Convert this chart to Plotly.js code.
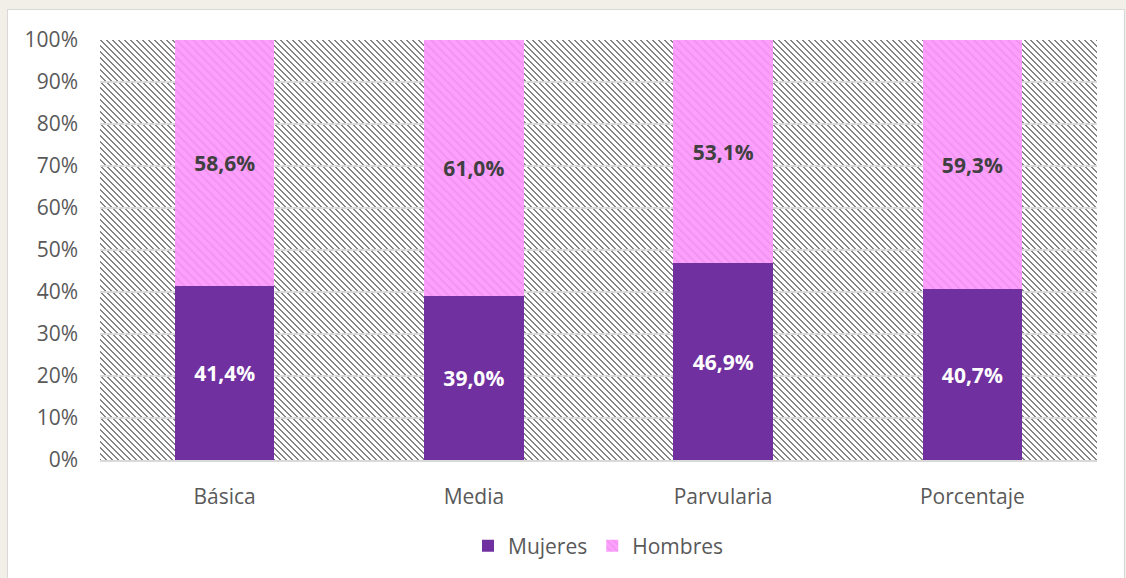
<!DOCTYPE html>
<html>
<head>
<meta charset="utf-8">
<script src="https://cdn.plot.ly/plotly-3.0.1.min.js"></script>
<style>
  html, body { margin: 0; padding: 0; background: #f2efe8; width: 1126px; height: 578px; overflow: hidden; }
  #card { position: absolute; left: 7px; top: 9px; width: 1116px; height: 600px; background: #ffffff; border: 1px solid #d9d9d9; }
  #hatch { position: absolute; left: 100px; top: 40px; width: 997px; height: 422px; background-color: #ffffff; image-rendering: pixelated; }
  #chart { position: absolute; left: 0; top: 0; width: 1126px; height: 578px; }
</style>
</head>
<body>
<div id="card"></div>
<div id="hatch"></div>
<div id="chart"></div>
<script>
const categories = ["Básica", "Media", "Parvularia", "Porcentaje"];
const mujeres = [41.4, 39.0, 46.9, 40.7];
const hombres = [58.6, 61.0, 53.1, 59.3];
const yTicks = [0, 10, 20, 30, 40, 50, 60, 70, 80, 90, 100];

const FONT = "Open Sans, Lato, DejaVu Sans, sans-serif";

// pixel hatch tile ("\" direction) for the plot-area background
(function () {
  const c = document.createElement("canvas");
  c.width = 6; c.height = 6;
  const g = c.getContext("2d");
  g.fillStyle = "#ffffff"; g.fillRect(0, 0, 6, 6);
  g.fillStyle = "#858585";
  for (let y = 0; y < 6; y++) {
    g.fillRect(y % 6, y, 1, 1);
    g.fillRect((y + 1) % 6, y, 1, 1);
  }
  document.getElementById("hatch").style.backgroundImage = "url(" + c.toDataURL() + ")";
})();

const traces = [
  {
    type: "bar", name: "Mujeres", x: categories, y: mujeres,
    marker: { color: "#7030a0" },
    texttemplate: "<b>%{y:.1f}%</b>", textposition: "inside", insidetextanchor: "middle",
    textfont: { family: FONT, size: 21, color: "#ffffff" },
    hoverinfo: "skip"
  },
  {
    type: "bar", name: "Hombres", x: categories, y: hombres,
    marker: { color: "#ec8fec", pattern: { shape: "\\", fgcolor: "#ee92ee", bgcolor: "#fd9ffd", size: 6, solidity: 0.25, fillmode: "replace" } },
    texttemplate: "<b>%{y:.1f}%</b>", textposition: "inside", insidetextanchor: "middle",
    textfont: { family: FONT, size: 21, color: "#404040" },
    hoverinfo: "skip"
  }
];

const layout = {
  width: 1126, height: 578,
  margin: { l: 100, r: 29, t: 40, b: 116 },
  paper_bgcolor: "rgba(0,0,0,0)",
  plot_bgcolor: "rgba(0,0,0,0)",
  barmode: "stack",
  bargap: 0.6,
  separators: ",.",
  font: { family: FONT, color: "#595959", size: 21 },
  showlegend: true,
  legend: {
    orientation: "h", x: 0.5, xanchor: "center", y: -0.205, yanchor: "middle",
    font: { family: FONT, size: 21, color: "#595959" },
    traceorder: "normal", itemwidth: 30
  },
  xaxis: {
    type: "category", showgrid: false, zeroline: false,
    showline: true, linecolor: "#d9d9d9", linewidth: 2,
    ticks: "", tickfont: { family: FONT, size: 21, color: "#595959" },
    ticklabelstandoff: 17
  },
  yaxis: {
    range: [0, 100], tickvals: yTicks, ticktext: yTicks.map(v => v + "%"),
    showgrid: true, gridcolor: "#d9d9d9", gridwidth: 2,
    zeroline: false, showline: false, ticks: "",
    tickfont: { family: FONT, size: 21, color: "#595959" },
    ticklabelstandoff: 21
  }
};

Plotly.newPlot("chart", traces, layout, { displayModeBar: false, staticPlot: true });
</script>
</body>
</html>
